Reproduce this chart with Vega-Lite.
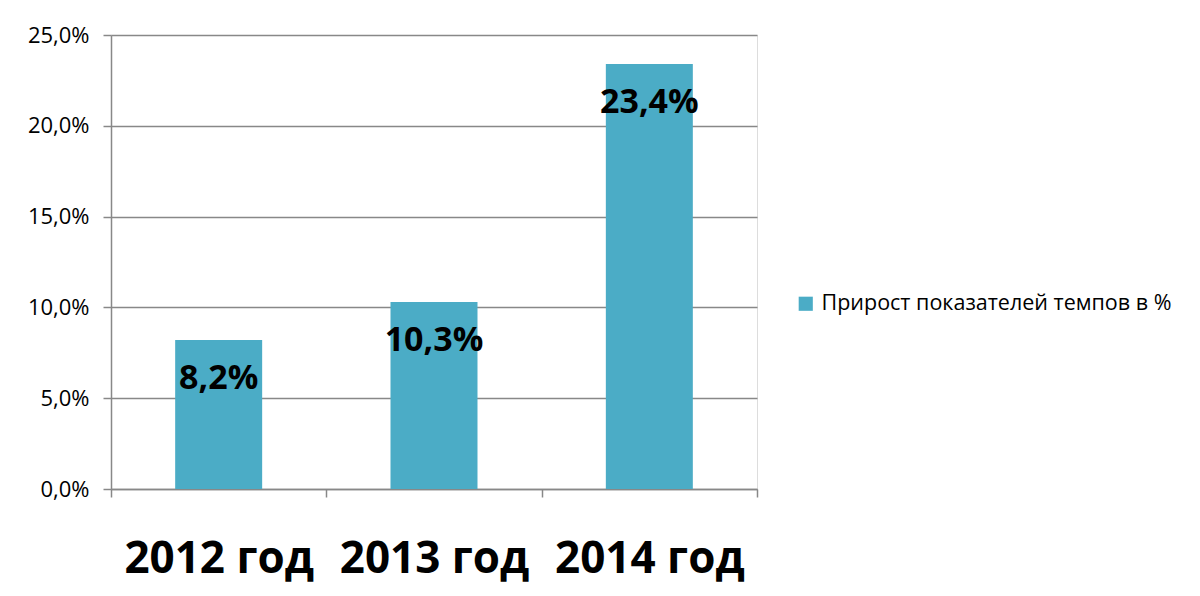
{
  "$schema": "https://vega.github.io/schema/vega-lite/v6.json",
  "autosize": {"type": "none"},
  "width": 646,
  "height": 454,
  "padding": {"left": 111, "top": 35, "right": 443, "bottom": 107},
  "background": "white",
  "data": {
    "values": [
      {"year": "2012 год", "value": 8.2, "label": "8,2%", "series": "Прирост показателей темпов в %"},
      {"year": "2013 год", "value": 10.3, "label": "10,3%", "series": "Прирост показателей темпов в %"},
      {"year": "2014 год", "value": 23.4, "label": "23,4%", "series": "Прирост показателей темпов в %"}
    ]
  },
  "encoding": {
    "x": {
      "field": "year",
      "type": "nominal",
      "sort": null,
      "scale": {"paddingInner": 0, "paddingOuter": 0},
      "axis": {
        "title": null,
        "labelAngle": 0,
        "labelFont": "Open Sans",
        "labelFontWeight": "bold",
        "labelFontSize": 44,
        "labelColor": "#000000",
        "labelPadding": 40,
        "labelLimit": 400,
        "tickBand": "extent",
        "tickSize": 8,
        "tickColor": "#888888",
        "tickWidth": 1.5,
        "domainColor": "#888888",
        "domainWidth": 1.5,
        "grid": false
      }
    }
  },
  "layer": [
    {
      "mark": {"type": "bar", "color": "#4BACC6", "width": {"band": 0.404}},
      "encoding": {
        "y": {
          "field": "value",
          "type": "quantitative",
          "scale": {"domain": [0, 25], "nice": false},
          "axis": {
            "title": null,
            "values": [0, 5, 10, 15, 20, 25],
            "labelExpr": "replace(format(datum.value, '.1f'), '.', ',') + '%'",
            "labelFont": "Open Sans",
            "labelFontSize": 22,
            "labelColor": "#000000",
            "labelPadding": 14,
            "tickSize": 8,
            "tickColor": "#888888",
            "tickWidth": 1.5,
            "domainColor": "#888888",
            "domainWidth": 1.5,
            "grid": true,
            "gridColor": "#888888",
            "gridWidth": 1.5
          }
        },
        "color": {
          "field": "series",
          "type": "nominal",
          "scale": {"range": ["#4BACC6"]},
          "legend": {
            "title": null,
            "orient": "none",
            "legendX": 684,
            "legendY": 258,
            "padding": 0,
            "symbolType": "square",
            "symbolSize": 200,
            "symbolStrokeWidth": 0,
            "labelFont": "Open Sans",
            "labelFontSize": 21.5,
            "labelColor": "#000000",
            "labelOffset": 5,
            "labelLimit": 500
          }
        }
      }
    },
    {
      "mark": {"type": "text", "font": "Open Sans", "fontWeight": "bold", "fontSize": 34, "color": "#000000", "baseline": "middle", "dy": 39},
      "encoding": {
        "y": {"field": "value", "type": "quantitative"},
        "text": {"field": "label"}
      }
    }
  ]
}
